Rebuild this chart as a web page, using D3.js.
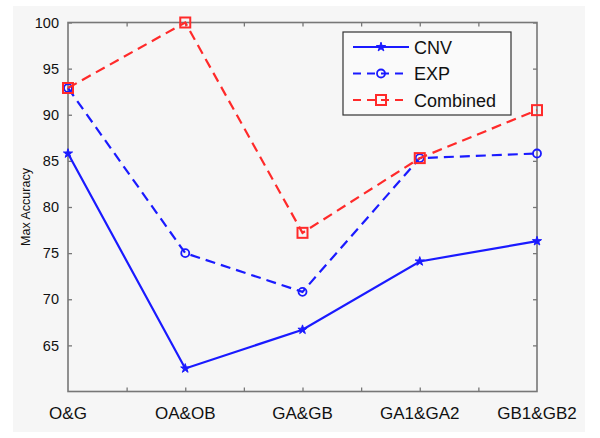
<!DOCTYPE html>
<html>
<head>
<meta charset="utf-8">
<script src="https://cdn.jsdelivr.net/npm/d3@7"></script>
<style>
  body { margin: 0; background: #fff; }
  text { font-family: "Liberation Sans", Arial, sans-serif; }
</style>
</head>
<body>
<svg id="chart"></svg>
<script>
const categories = ["O&G", "OA&OB", "GA&GB", "GA1&GA2", "GB1&GB2"];
const cnv = [85.8, 62.5, 66.7, 74.1, 76.3];
const exp = [92.9, 75.0, 70.8, 85.3, 85.8];
const combined = [92.9, 100, 77.2, 85.3, 90.5];
const yTicks = [65, 70, 75, 80, 85, 90, 95, 100];

const width = 600, height = 438;
const margin = { top: 22.5, right: 63, bottom: 46.5, left: 68 };
const pw = width - margin.left - margin.right;
const ph = height - margin.top - margin.bottom;

const svg = d3.select("#chart").attr("width", width).attr("height", height);

svg.append("rect").attr("x", 13).attr("y", 6).attr("width", 572).attr("height", 426)
  .attr("fill", "#f6f6f6");

const g = svg.append("g").attr("transform", `translate(${margin.left},${margin.top})`);

const x = d3.scaleLinear().domain([0, categories.length - 1]).range([0, pw]);
const y = d3.scaleLinear().domain([60, 100]).range([ph, 0]);

const axisColor = "#777";
const halfTicks = d3.range(0.5, categories.length - 1, 0.5);

// frame
g.append("rect").attr("width", pw).attr("height", ph)
  .attr("fill", "none").attr("stroke", axisColor).attr("stroke-width", 1.6);

// inward ticks on all four sides
const bottomAxis = d3.axisBottom(x).tickValues(halfTicks).tickSize(-4).tickFormat("");
const topAxis = d3.axisTop(x).tickValues(halfTicks).tickSize(-4).tickFormat("");
const leftAxis = d3.axisLeft(y).tickValues(yTicks).tickSize(-4).tickPadding(9);
const rightAxis = d3.axisRight(y).tickValues(yTicks).tickSize(-4).tickFormat("");

const gb = g.append("g").attr("transform", `translate(0,${ph})`).call(bottomAxis);
const gt = g.append("g").call(topAxis);
const gl = g.append("g").call(leftAxis);
const gr = g.append("g").attr("transform", `translate(${pw},0)`).call(rightAxis);
[gb, gt, gl, gr].forEach(a => {
  a.select(".domain").remove();
  a.selectAll(".tick line").attr("stroke", axisColor).attr("stroke-width", 1.3);
});
gl.selectAll(".tick text").attr("font-size", 14.5).attr("fill", "#111")
  .style("font-family", "Liberation Sans, Arial, sans-serif");

// category labels
g.selectAll(".cat").data(categories).enter().append("text")
  .attr("x", (d, i) => x(i)).attr("y", ph + 27)
  .attr("text-anchor", "middle").attr("font-size", 17).attr("fill", "#111")
  .text(d => d);

// y label
svg.append("text")
  .attr("transform", `translate(30,${margin.top + ph / 2}) rotate(-90)`)
  .attr("text-anchor", "middle").attr("font-size", 12.5).attr("fill", "#111")
  .text("Max Accuracy");

const line = d3.line().x((d, i) => x(i)).y(d => y(d));

const series = [
  { name: "CNV", values: cnv, color: "#1a1aff", dash: null, marker: "star" },
  { name: "EXP", values: exp, color: "#1a1aff", dash: "10,6", marker: "circle" },
  { name: "Combined", values: combined, color: "#ff2a2a", dash: "10,6", marker: "square" }
];

function drawMarker(sel, type, color) {
  if (type === "star") {
    sel.append("path").attr("d", d3.symbol(d3.symbolStar, 26)())
      .attr("fill", color).attr("stroke", color).attr("stroke-width", 1);
  } else if (type === "circle") {
    sel.append("circle").attr("r", 4).attr("fill", "none")
      .attr("stroke", color).attr("stroke-width", 1.8);
  } else {
    sel.append("rect").attr("x", -5).attr("y", -5).attr("width", 10).attr("height", 10)
      .attr("fill", "none").attr("stroke", color).attr("stroke-width", 2);
  }
}

series.forEach(s => {
  g.append("path").datum(s.values).attr("d", line)
    .attr("fill", "none").attr("stroke", s.color).attr("stroke-width", 2.2)
    .attr("stroke-dasharray", s.dash);
  s.values.forEach((v, i) => {
    const m = g.append("g").attr("transform", `translate(${x(i)},${y(v)})`);
    drawMarker(m, s.marker, s.color);
  });
});

// legend
const lg = svg.append("g").attr("transform", "translate(343,32)");
lg.append("rect").attr("width", 168).attr("height", 83)
  .attr("fill", "#fafafa").attr("stroke", "#333").attr("stroke-width", 1.2);
series.forEach((s, i) => {
  const yy = 15 + i * 26.5;
  lg.append("line").attr("x1", 10).attr("x2", 66).attr("y1", yy).attr("y2", yy)
    .attr("stroke", s.color).attr("stroke-width", 2.2)
    .attr("stroke-dasharray", s.dash ? "8,6" : null);
  const m = lg.append("g").attr("transform", `translate(38,${yy})`);
  drawMarker(m, s.marker, s.color);
  lg.append("text").attr("x", 71).attr("y", yy + 6.5).attr("font-size", 18).attr("fill", "#111")
    .text(s.name);
});
</script>
</body>
</html>
